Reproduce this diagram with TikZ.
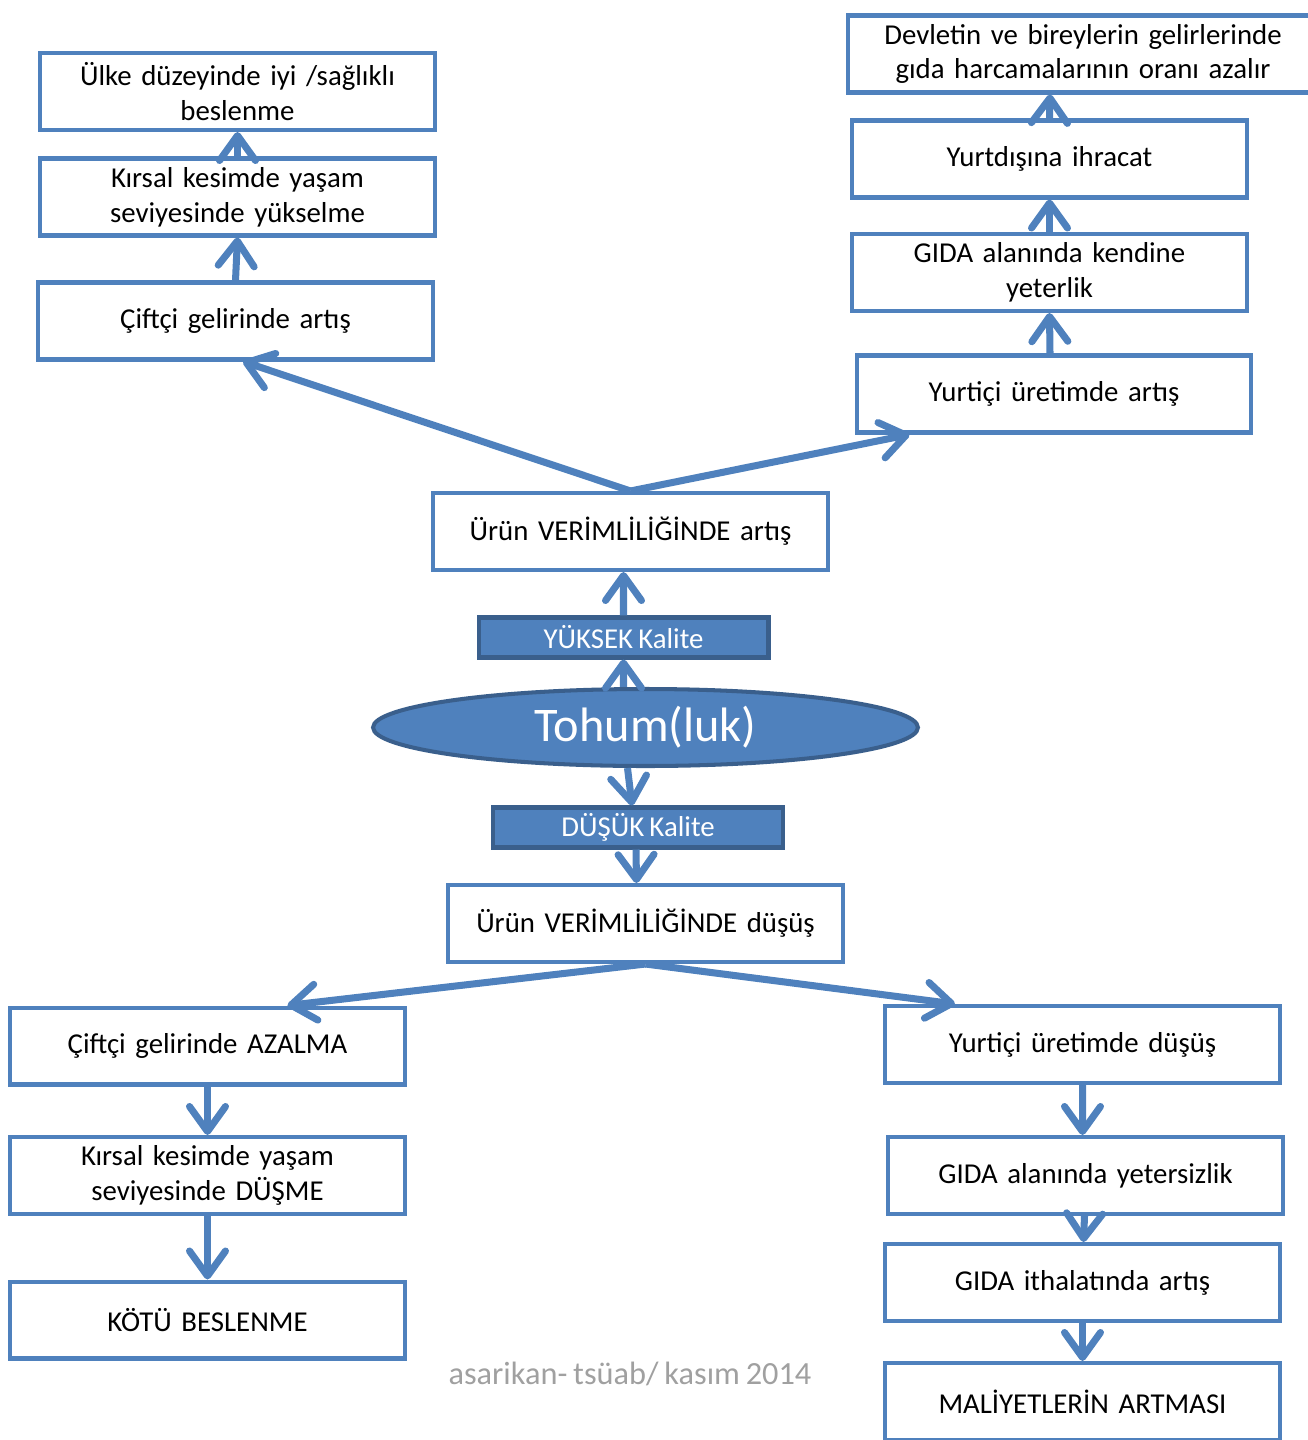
\documentclass[tikz,border=0pt]{standalone}
\usepackage{fontspec}
\setmainfont{Carlito}[WordSpace=0.8]
\usetikzlibrary{arrows.meta,shapes.geometric}
\definecolor{kutumavi}{HTML}{4F81BD}
\definecolor{koyumavi}{HTML}{3A5F8C}
\definecolor{imzagri}{HTML}{A0A0A0}
\tikzset{every node/.style={align=center}}
\tikzset{
  kutu/.style={draw=kutumavi, line width=2.3pt, fill=white, minimum width=7.9cm, minimum height=1.54cm,
    text width=7.6cm, inner sep=0pt, font=\fontsize{16.4}{19.8}\selectfont},
  kalite/.style={draw=koyumavi, fill=kutumavi, line width=2.3pt, text=white, minimum width=5.8cm,
    minimum height=0.8cm, inner sep=0pt, font=\fontsize{16.4}{18}\selectfont},
  ok/.style={draw=kutumavi, line width=4pt, -{Straight Barb[length=0.5cm, width=0.72cm, round]}}
}

\begin{document}
\begin{tikzpicture}[x=0.02cm,y=-0.02cm]
        % \draw[help lines,step=100] (0,0) grid (1308,1440);
        \useasboundingbox (0,0) rectangle (1308,1440);

        % left top column
        \node[kutu] (ulke) at (237.5,91.5) {Ülke düzeyinde iyi /sağlıklı\\beslenme};
        \node[kutu] (kirsalyuk) at (237.5,197) {Kırsal kesimde yaşam\\seviyesinde yükselme};
        \node[kutu] (ciftciart) at (235.5,321) {Çiftçi gelirinde artış};

        % right top column
        \node[kutu, minimum width=9.4cm, text width=9cm] (devlet) at (1083,54) {Devletin ve bireylerin gelirlerinde\\gıda harcamalarının oranı azalır};
        \node[kutu] (ihracat) at (1049.5,159) {Yurtdışına ihracat};
        \node[kutu] (yeterlik) at (1049.5,272.5) {GIDA alanında kendine\\yeterlik};
        \node[kutu] (yurticiart) at (1054,394) {Yurtiçi üretimde artış};

        % middle
        \node[kutu] (verimart) at (630.5,531.5) {Ürün VERİMLİLİĞİNDE artış};
        \node[kalite] (yuksek) at (623.5,637.5) {YÜKSEK Kalite};
        \node[ellipse, draw=koyumavi, fill=kutumavi, line width=2.3pt, minimum width=10.9cm, minimum height=1.54cm,
              text=white, font=\fontsize{27.5}{30}\selectfont] (tohum) at (645.5,727.5) {Tohum(luk)};
        \node[kalite] (dusuk) at (638,827.5) {DÜŞÜK Kalite};
        \node[kutu] (verimdus) at (645.5,923.5) {Ürün VERİMLİLİĞİNDE düşüş};

        % left bottom column
        \node[kutu] (ciftciaz) at (207.5,1046) {Çiftçi gelirinde AZALMA};
        \node[kutu] (kirsaldus) at (207.5,1175.5) {Kırsal kesimde yaşam\\seviyesinde DÜŞME};
        \node[kutu] (kotu) at (207.5,1320) {KÖTÜ BESLENME};

        % right bottom column
        \node[kutu] (yurticidus) at (1082.5,1044.5) {Yurtiçi üretimde düşüş};
        \node[kutu] (yetersiz) at (1085.5,1175.5) {GIDA alanında yetersizlik};
        \node[kutu] (ithalat) at (1082.5,1282.5) {GIDA ithalatında artış};
        \node[kutu] (maliyet) at (1082.5,1401.5) {MALİYETLERİN ARTMASI};

        \node[text=imzagri, font=\fontsize{18.4}{20}\selectfont] (imza) at (630,1374) {asarikan- tsüab/ kasım 2014};

        % upward arrows
        \draw[ok] (ciftciart.north) -- (kirsalyuk.south);
        \draw[ok] (kirsalyuk.north) -- (ulke.south);
        \draw[ok] ([xshift=-0.08cm]yurticiart.north) -- (yeterlik.south);
        \draw[ok] (yeterlik.north) -- (ihracat.south);
        \draw[ok] (ihracat.north) -- ([xshift=-0.66cm]devlet.south);
        \draw[ok] (yuksek.north) -- ([xshift=-0.14cm]verimart.south);
        \draw[ok] ([xshift=-0.44cm]tohum.north) -- (yuksek.south);

        % branches of higher yield
        \draw[ok] (verimart.north) -- ([xshift=0.15cm]ciftciart.south);
        \draw[ok] (verimart.north) -- ([xshift=1.1cm]yurticiart.south west);

        % downward arrows
        \draw[ok] ([xshift=-0.36cm]tohum.south) -- ([xshift=-0.12cm]dusuk.north);
        \draw[ok] ([xshift=-0.04cm]dusuk.south) -- ([xshift=-0.18cm]verimdus.north);
        \draw[ok] (verimdus.south) -- ([xshift=1.6cm]ciftciaz.north);
        \draw[ok] (verimdus.south) -- ([xshift=1.44cm]yurticidus.north west);
        \draw[ok] (ciftciaz.south) -- (kirsaldus.north);
        \draw[ok] (kirsaldus.south) -- (kotu.north);
        \draw[ok] (yurticidus.south) -- ([xshift=-0.06cm]yetersiz.north);
        \draw[ok] ([xshift=-0.02cm]yetersiz.south) -- ([xshift=0.02cm]ithalat.north);
        \draw[ok] (ithalat.south) -- (maliyet.north);

    \end{tikzpicture}
\end{document}
